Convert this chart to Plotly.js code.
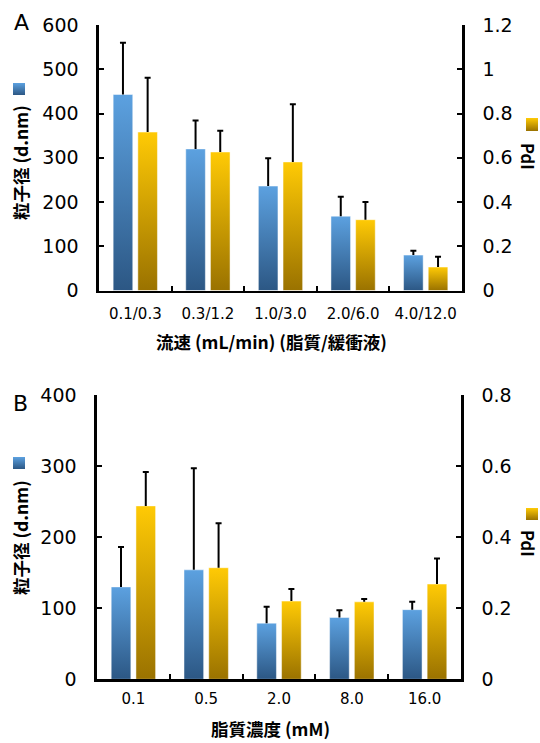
<!DOCTYPE html>
<html><head><meta charset="utf-8">
<script src="https://cdn.plot.ly/plotly-3.0.1.min.js"></script>
<style>body{margin:0;background:#fff}#chart{width:540px;height:743px}</style>
</head><body><div id="chart"></div>
<script>
// Panel A: flow rate (lipid / buffer)
const flowCategories = ['0.1/0.3', '0.3/1.2', '1.0/3.0', '2.0/6.0', '4.0/12.0'];
const flowSize = [443, 320, 236, 168, 80];
const flowSizeErr = [117, 64, 63, 44, 10];
const flowPdI = [0.716, 0.626, 0.581, 0.320, 0.106];
const flowPdIErr = [0.246, 0.096, 0.261, 0.080, 0.047];
// Panel B: lipid concentration (mM)
const concCategories = ['0.1', '0.5', '2.0', '8.0', '16.0'];
const concSize = [130, 154, 79, 87, 98];
const concSizeErr = [56, 143, 23, 10, 11];
const concPdI = [0.488, 0.314, 0.220, 0.218, 0.268];
const concPdIErr = [0.095, 0.125, 0.034, 0.008, 0.072];

const BLUE = '#4a8bd0', GOLD = '#e6aa00';
const W = 540, H = 743;
const px = v => v / W, py = v => 1 - v / H;

function bar(x, y, err, color, xa, ya, offset) {
  return {
    type: 'bar', x: x, y: y, xaxis: xa, yaxis: ya, width: 0.27, offset: offset,
    marker: {color: color, line: {color: 'rgba(255,255,255,0.6)', width: 0.8}},
    error_y: {type: 'data', array: err, symmetric: false, arrayminus: err.map(() => 0),
              color: '#000', thickness: 2, width: 3},
    showlegend: false, hoverinfo: 'none'
  };
}

const data = [
  bar(flowCategories, flowSize, flowSizeErr, BLUE, 'x', 'y', -0.305),
  bar(flowCategories, flowPdI, flowPdIErr, GOLD, 'x', 'y2', 0.035),
  bar(concCategories, concSize, concSizeErr, BLUE, 'x2', 'y3', -0.305),
  bar(concCategories, concPdI, concPdIErr, GOLD, 'x2', 'y4', 0.035)
];

const tickFont = {family: 'DejaVu Sans', size: 19, color: '#000'};
const xTickFont = {family: 'DejaVu Sans', size: 15, color: '#000'};
function yAx(extra) {
  return Object.assign({
    showline: true, linecolor: '#000', linewidth: 2.6, ticks: 'inside', ticklen: 5,
    tickwidth: 2, tickcolor: '#000', showgrid: false, zeroline: false,
    tickfont: tickFont, ticklabelstandoff: 14, fixedrange: true
  }, extra);
}
function xAx(extra) {
  return Object.assign({
    type: 'category', range: [-0.5, 4.5], showline: true, linecolor: '#000', linewidth: 2.6,
    ticks: 'inside', tickson: 'boundaries', ticklen: 5, tickwidth: 2, tickcolor: '#000',
    showgrid: false, zeroline: false, tickfont: xTickFont, ticklabelstandoff: 8, fixedrange: true
  }, extra);
}

const titleFont = {family: 'Noto Sans CJK JP', size: 17.5, color: '#000', weight: 'bold'};
const pdiFont = {family: 'Noto Sans CJK JP', size: 16.5, color: '#000', weight: 'bold'};
const letterFont = {family: 'DejaVu Sans', size: 22, color: '#000'};
function ann(text, x, y, font, angle, yanchor) {
  return {text: text, x: px(x), y: py(y), xref: 'paper', yref: 'paper', showarrow: false,
          xanchor: 'center', yanchor: yanchor || 'middle', font: font, textangle: angle || 0};
}
function sq(x0, y0, x1, y1, color) {
  return {type: 'rect', xref: 'paper', yref: 'paper', x0: px(x0), x1: px(x1), y0: py(y1), y1: py(y0),
          fillcolor: color, line: {width: 0}};
}

const layout = {
  width: W, height: H, margin: {l: 0, r: 0, t: 0, b: 0},
  paper_bgcolor: '#fff', plot_bgcolor: 'rgba(0,0,0,0)', barmode: 'overlay',
  xaxis: xAx({domain: [px(99), px(462)], anchor: 'y'}),
  yaxis: yAx({domain: [py(290.5), py(25)], anchor: 'x', range: [0, 600], dtick: 100}),
  yaxis2: yAx({overlaying: 'y', side: 'right', anchor: 'x', range: [0, 1.2], dtick: 0.2}),
  xaxis2: xAx({domain: [px(97), px(461)], anchor: 'y3', ticklabelstandoff: 4}),
  yaxis3: yAx({domain: [py(679.3), py(395)], anchor: 'x2', range: [0, 400], dtick: 100}),
  yaxis4: yAx({overlaying: 'y3', side: 'right', anchor: 'x2', range: [0, 0.8], dtick: 0.2}),
  annotations: [
    ann('A', 21, 22, letterFont),
    ann('B', 20, 403, letterFont),
    ann('粒子径 (d.nm)', 20, 163, titleFont, -90),
    ann('PdI', 528, 156, pdiFont, 90),
    ann('流速 (mL/min) (脂質/緩衝液)', 271, 341, titleFont),
    ann('粒子径 (d.nm)', 20, 538, titleFont, -90),
    ann('PdI', 528, 543, pdiFont, 90),
    ann('脂質濃度 (mM)', 270, 742.5, titleFont, 0, 'bottom')
  ],
  shapes: [
    sq(13, 83, 25, 95, BLUE),
    sq(526, 118, 538, 131, GOLD),
    sq(13, 457, 25, 469, BLUE),
    sq(526, 508, 538, 520, GOLD)
  ]
};

Plotly.newPlot('chart', data, layout, {staticPlot: true, displayModeBar: false}).then(gd => {
  const ns = 'http://www.w3.org/2000/svg';
  const svg = gd.querySelector('svg.main-svg');
  let defs = svg.querySelector('defs');
  if (!defs) { defs = document.createElementNS(ns, 'defs'); svg.insertBefore(defs, svg.firstChild); }
  function grad(id, top, bottom) {
    const g = document.createElementNS(ns, 'linearGradient');
    g.setAttribute('id', id);
    g.setAttribute('x1', '0'); g.setAttribute('y1', '0');
    g.setAttribute('x2', '0'); g.setAttribute('y2', '1');
    [[0, top], [1, bottom]].forEach(([o, c]) => {
      const s = document.createElementNS(ns, 'stop');
      s.setAttribute('offset', o); s.setAttribute('stop-color', c);
      g.appendChild(s);
    });
    defs.appendChild(g);
  }
  grad('gBlue', '#5ca1e0', '#2c5784');
  grad('gGold', '#ffca05', '#9a7200');
  gd.querySelectorAll('path').forEach(p => {
    const f = p.style.fill;
    if (f === 'rgb(74, 139, 208)') p.style.fill = 'url(#gBlue)';
    else if (f === 'rgb(230, 170, 0)') p.style.fill = 'url(#gGold)';
  });
  // drop the zero-length lower cap so only the upper whisker and cap remain
  gd.querySelectorAll('.errorbar path.yerror').forEach(p => {
    const d = p.getAttribute('d') || '';
    p.setAttribute('d', d.replace(/m-?[\d.]+,0h[\d.]+$/, ''));
  });
});
</script>
</body></html>
